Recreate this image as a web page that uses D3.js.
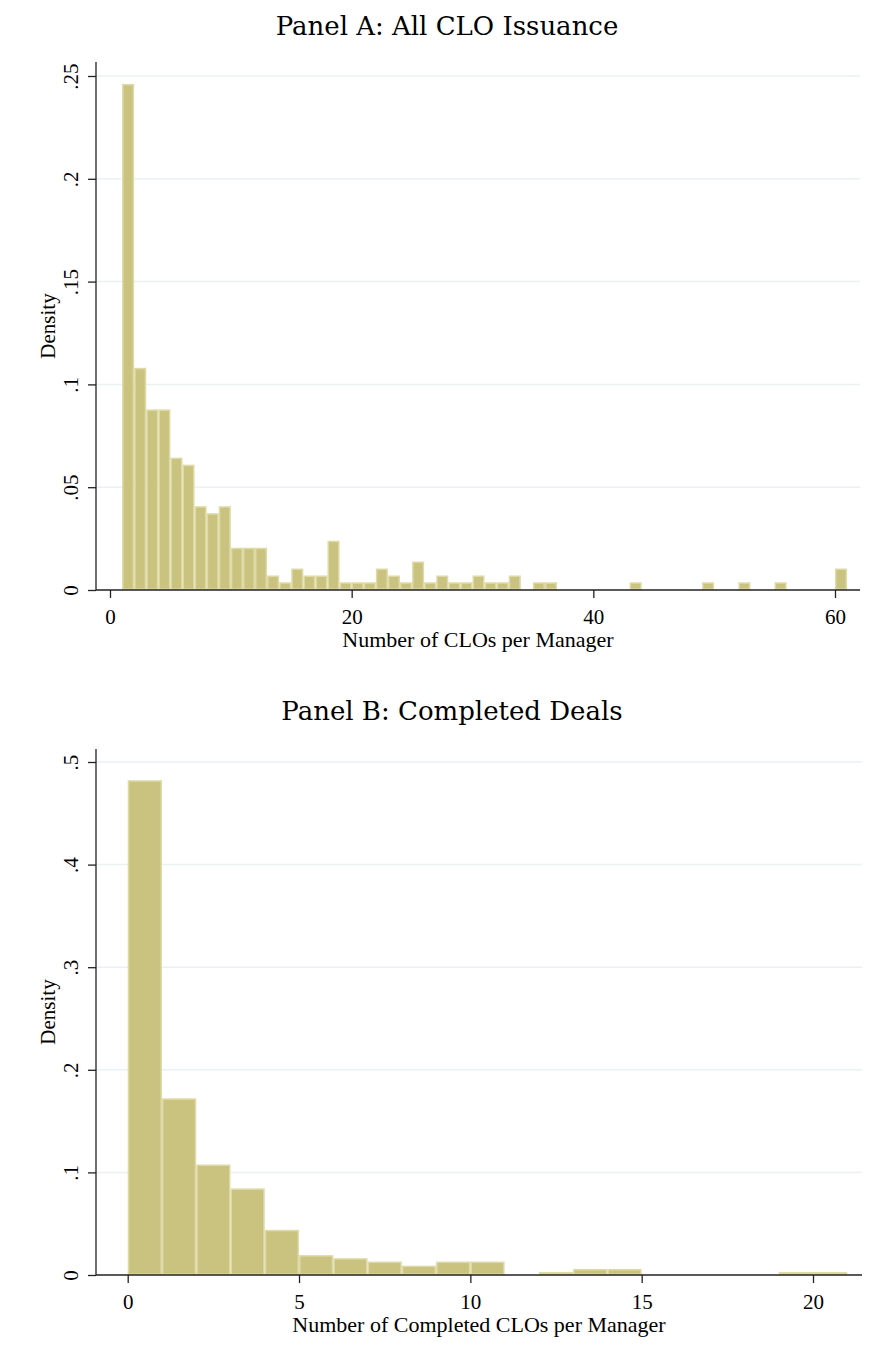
<!DOCTYPE html>
<html>
<head>
<meta charset="utf-8">
<script src="https://cdn.jsdelivr.net/npm/d3@7"></script>
<style>
  body { margin: 0; background: #fff; }
  text { font-family: "Liberation Serif", "Times New Roman", serif; fill: #000; }
</style>
</head>
<body>
<svg width="872" height="1352"></svg>
<script>
// Panel A: density per 1-wide bin, first bin starts at 1
const binStartA = 1;
const densityA = [
  0.2458, 0.1077, 0.0875, 0.0875, 0.0640, 0.0606, 0.0404, 0.0370, 0.0404, 0.0202,
  0.0202, 0.0202, 0.0067, 0.0034, 0.0101, 0.0067, 0.0067, 0.0236, 0.0034, 0.0034,
  0.0034, 0.0101, 0.0067, 0.0034, 0.0135, 0.0034, 0.0067, 0.0034, 0.0034, 0.0067,
  0.0034, 0.0034, 0.0067, 0,      0.0034, 0.0034, 0,      0,      0,      0,
  0,      0,      0.0034, 0,      0,      0,      0,      0,      0.0034, 0,
  0,      0.0034, 0,      0,      0.0034, 0,      0,      0,      0,      0.0101
];
const xTicksA = [0, 20, 40, 60];
const yTicksA = [0, 0.05, 0.1, 0.15, 0.2, 0.25];
const yLabelsA = ["0", ".05", ".1", ".15", ".2", ".25"];

// Panel B: density per 1-wide bin, first bin starts at 0
const binStartB = 0;
const densityB = [
  0.4815, 0.1715, 0.1070, 0.0837, 0.0433, 0.0187, 0.0157, 0.0124, 0.0084, 0.0124,
  0.0124, 0,      0.0023, 0.0052, 0.0052, 0,      0,      0,      0,      0.0023,
  0.0023
];
const xTicksB = [0, 5, 10, 15, 20];
const yTicksB = [0, 0.1, 0.2, 0.3, 0.4, 0.5];
const yLabelsB = ["0", ".1", ".2", ".3", ".4", ".5"];

const svg = d3.select("svg");
const barFill = "#cac380", barEdge = "#dedaa8", gridColor = "#eaf1f3";

function drawPanel(p) {
  const g = svg.append("g");
  const x = d3.scaleLinear().domain(p.xDomain).range(p.xRange);
  const y = d3.scaleLinear().domain(p.yDomain).range(p.yRange);

  g.append("text")
    .attr("x", p.titleX).attr("y", p.titleY)
    .attr("text-anchor", "middle")
    .style("font-family", "'DejaVu Serif', serif")
    .style("font-size", "26px")
    .text(p.title);

  // gridlines
  g.selectAll(".grid")
    .data(p.yTicks.filter(d => d > 0))
    .enter().append("line")
      .attr("x1", p.left).attr("x2", p.right)
      .attr("y1", d => y(d)).attr("y2", d => y(d))
      .attr("stroke", gridColor).attr("stroke-width", 1.5);

  const bars = p.density.map((d, i) => ({x0: p.binStart + i, v: d})).filter(d => d.v > 0);
  g.selectAll("rect")
    .data(bars)
    .enter().append("rect")
      .attr("x", d => x(d.x0) + 0.75)
      .attr("width", d => x(d.x0 + 1) - x(d.x0) - 1.5)
      .attr("y", d => y(d.v))
      .attr("height", d => y(0) - y(d.v) - 0.75)
      .attr("fill", barFill)
      .attr("stroke", barEdge)
      .attr("stroke-width", 1.5);

  // y axis
  const yAxis = g.append("g")
    .attr("transform", "translate(" + p.left + ",0)")
    .call(d3.axisLeft(y).tickValues(p.yTicks).tickSize(8).tickFormat((d, i) => p.yLabels[i]));
  yAxis.select(".domain").attr("d", "M0," + p.axisTop + "V" + y(0)).attr("stroke", "#222").attr("stroke-width", 1.3);
  yAxis.selectAll(".tick line").attr("stroke", "#222").attr("stroke-width", 1.3);
  yAxis.selectAll(".tick text")
    .attr("x", null).attr("dy", null)
    .attr("text-anchor", "middle")
    .attr("dominant-baseline", "central")
    .attr("transform", "translate(-25,0) rotate(-90)")
    .style("font-size", "21px")
    .style("font-family", "Liberation Serif");

  // x axis
  const xAxis = g.append("g")
    .attr("transform", "translate(0," + y(0) + ")")
    .call(d3.axisBottom(x).tickValues(p.xTicks).tickSize(8).tickFormat(d3.format("d")));
  xAxis.select(".domain").attr("d", "M" + p.left + ",0H" + p.right).attr("stroke", "#222").attr("stroke-width", 1.3);
  xAxis.selectAll(".tick line").attr("stroke", "#222").attr("stroke-width", 1.3);
  xAxis.selectAll(".tick text")
    .attr("y", 27).attr("dy", "0.35em")
    .style("font-size", "21px")
    .style("font-family", "Liberation Serif");

  g.append("text")
    .attr("x", (p.left + p.right) / 2).attr("y", y(0) + 57)
    .attr("text-anchor", "middle")
    .style("font-size", "22px")
    .text(p.xTitle);

  g.append("text")
    .attr("transform", "translate(48," + (p.axisTop + y(0)) / 2 + ") rotate(-90)")
    .attr("text-anchor", "middle")
    .attr("dominant-baseline", "central")
    .style("font-size", "21px")
    .text("Density");
}

drawPanel({
  title: "Panel A: All CLO Issuance", titleX: 447, titleY: 35,
  xTitle: "Number of CLOs per Manager",
  density: densityA, binStart: binStartA,
  xDomain: [0, 60], xRange: [110, 835],
  yDomain: [0, 0.25], yRange: [590, 76],
  xTicks: xTicksA, yTicks: yTicksA, yLabels: yLabelsA,
  left: 96, right: 860, axisTop: 62
});

drawPanel({
  title: "Panel B: Completed Deals", titleX: 452, titleY: 720,
  xTitle: "Number of Completed CLOs per Manager",
  density: densityB, binStart: binStartB,
  xDomain: [0, 20], xRange: [127.7, 813],
  yDomain: [0, 0.5], yRange: [1275, 762],
  xTicks: xTicksB, yTicks: yTicksB, yLabels: yLabelsB,
  left: 96, right: 862, axisTop: 749
});
</script>
</body>
</html>
